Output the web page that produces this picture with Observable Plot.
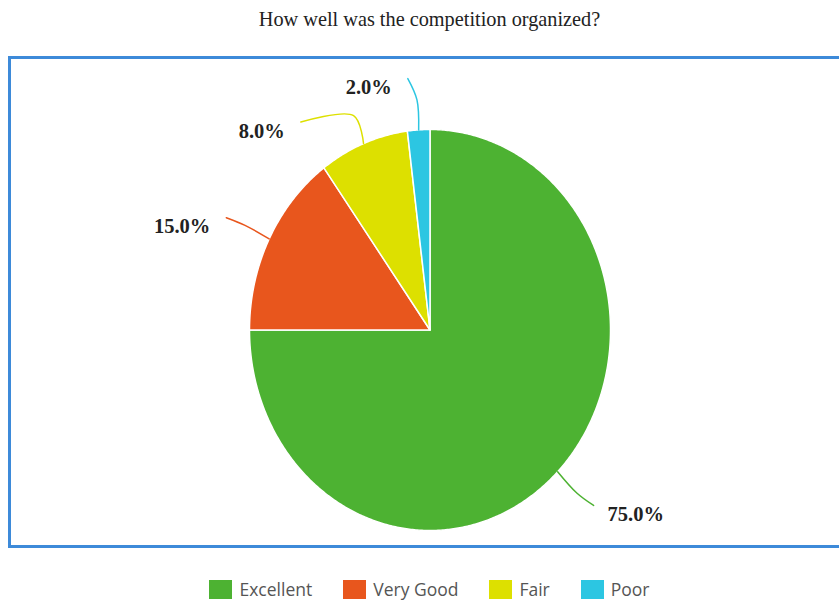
<!DOCTYPE html>
<html><head><meta charset="utf-8">
<script src="https://cdn.jsdelivr.net/npm/d3@7"></script>
<script src="https://cdn.jsdelivr.net/npm/@observablehq/plot@0.6"></script>
<style>
body{margin:0;background:#fff;width:839px;height:603px;overflow:hidden;position:relative;}
#title{position:absolute;left:0;width:859px;top:8px;text-align:center;font-family:"Liberation Serif","Times New Roman",serif;font-size:20.3px;line-height:22px;color:#222;}
#box{position:absolute;left:8px;top:56px;width:840px;height:486px;border:3px solid #3d8ad9;border-right:none;}
#chart{position:absolute;left:0;top:0;}
#legend{position:absolute;left:0;width:859px;top:577px;display:flex;justify-content:center;align-items:center;font-family:"Open Sans",sans-serif;font-size:17.5px;color:#555;}
.item{display:flex;align-items:center;margin:0 15.5px;}
.sw{width:23px;height:19px;margin-right:7px;}
</style></head>
<body>
<div id="title">How well was the competition organized?</div>
<div id="box"></div>
<div id="chart"></div>
<div id="legend"></div>
<script>
const categories = ["Excellent", "Very Good", "Fair", "Poor"];
const values = [75, 15, 8, 2];
const colors = ["#4db232", "#e8561d", "#dde000", "#2cc6e2"];
const labels = ["75.0%", "15.0%", "8.0%", "2.0%"];
// layout only: angular nudge (degrees) of label connectors to avoid overlaps
const labelShift = [-1, -0.6, -13, -2];

const arcs = d3.pie().sort(null)(values);
const slicePts = [];
const connPts = [];
const labelData = [];
arcs.forEach((a, i) => {
  const key = categories[i];
  slicePts.push({key, x: 0, y: 0});
  const n = Math.max(2, Math.ceil((a.endAngle - a.startAngle) / (Math.PI / 360)));
  for (let k = 0; k <= n; k++) {
    const t = a.startAngle + (a.endAngle - a.startAngle) * k / n;
    slicePts.push({key, x: Math.sin(t), y: Math.cos(t)});
  }
  slicePts.push({key, x: 0, y: 0});
  const mid = (a.startAngle + a.endAngle) / 2;
  const la = mid + labelShift[i] * Math.PI / 180;
  connPts.push({key, x: Math.sin(mid), y: Math.cos(mid)});
  connPts.push({key, x: 1.15 * Math.sin(mid), y: 1.15 * Math.cos(mid)});
  const ex = 1.26 * Math.sin(la), ey = 1.26 * Math.cos(la);
  connPts.push({key, x: ex, y: ey});
  labelData.push({key, x: ex, y: ey, text: labels[i], right: ex > 0});
});

const chart = Plot.plot({
  width: 839,
  height: 560,
  marginLeft: 249,
  marginRight: 229,
  marginTop: 129,
  marginBottom: 30,
  x: {domain: [-1, 1], axis: null},
  y: {domain: [-1, 1], axis: null},
  color: {domain: categories, range: colors},
  style: {background: "transparent", overflow: "visible"},
  marks: [
    Plot.line(slicePts, {x: "x", y: "y", z: "key", fill: "key", stroke: "white", strokeWidth: 1.5, curve: "linear"}),
    Plot.line(connPts, {x: "x", y: "y", z: "key", stroke: "key", strokeWidth: 1.5, curve: "catmull-rom"}),
    Plot.text(labelData.filter(d => d.right), {x: "x", y: "y", text: "text", textAnchor: "start", dx: 14, dy: 9, fill: "#222", fontSize: 20.5, fontWeight: "bold", fontFamily: "Liberation Serif, Times New Roman, serif"}),
    Plot.text(labelData.filter(d => !d.right), {x: "x", y: "y", text: "text", textAnchor: "end", dx: -16, dy: 9, fill: "#222", fontSize: 20.5, fontWeight: "bold", fontFamily: "Liberation Serif, Times New Roman, serif"})
  ]
});
document.getElementById("chart").appendChild(chart);

const legend = d3.select("#legend");
categories.forEach((c, i) => {
  const it = legend.append("div").attr("class", "item");
  it.append("div").attr("class", "sw").style("background", colors[i]);
  it.append("span").text(c);
});
</script>
</body></html>
